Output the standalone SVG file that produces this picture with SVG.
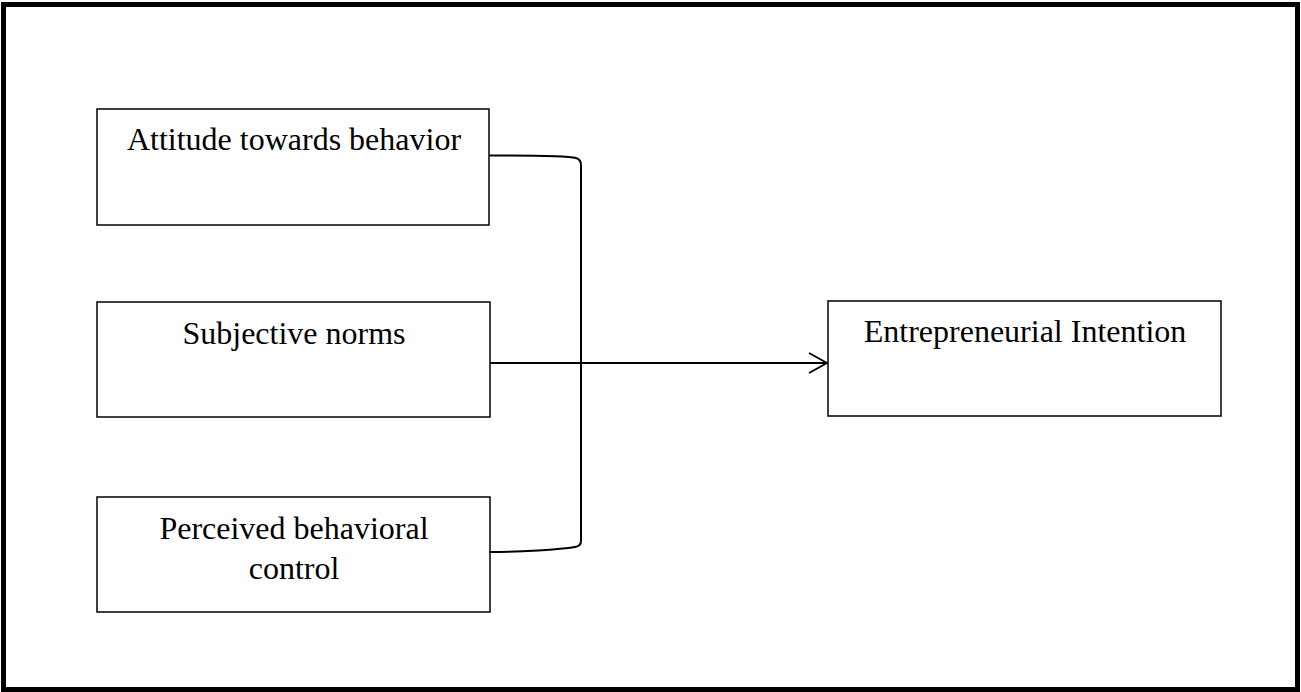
<svg xmlns="http://www.w3.org/2000/svg" width="1301" height="692" viewBox="0 0 1301 692">
<style>
.box{fill:#fff;stroke:#000;stroke-width:1.5}
.lbl{font-family:"Liberation Serif","Times New Roman",serif;font-size:32px;fill:#000;text-anchor:middle}
.con{fill:none;stroke:#000;stroke-width:2}
</style>
<defs>
<marker id="arr" viewBox="0 0 20 22" refX="19" refY="11" markerWidth="20" markerHeight="22" markerUnits="userSpaceOnUse" orient="auto">
<path d="M1,1 L19,11 L1,21" fill="none" stroke="#000" stroke-width="2"/>
</marker>
</defs>
<rect x="0" y="0" width="1301" height="692" fill="#fff"/>
<rect x="3.5" y="4.5" width="1294" height="685" fill="none" stroke="#000" stroke-width="5"/>
<g id="n1"><rect class="box" x="97" y="109" width="392" height="116"/><text class="lbl" x="294" y="150">Attitude towards behavior</text></g>
<g id="n2"><rect class="box" x="97" y="302" width="393" height="115"/><text class="lbl" x="294" y="344">Subjective norms</text></g>
<g id="n3"><rect class="box" x="97" y="497" width="393" height="115"/><text class="lbl" x="294" y="539">Perceived behavioral</text><text class="lbl" x="294" y="579">control</text></g>
<g id="n4"><rect class="box" x="828" y="301" width="393" height="115"/><text class="lbl" x="1025" y="342">Entrepreneurial Intention</text></g>
<g id="connectors">
<path class="con" d="M489,155.5 C540,155.5 568,156 576,158 Q581,159.5 581,165 L581,541 Q581,546 575,547 C560,549.5 520,552 489,552"/>
<line class="con" x1="490" y1="363" x2="827" y2="363" marker-end="url(#arr)"/>
</g>
</svg>
